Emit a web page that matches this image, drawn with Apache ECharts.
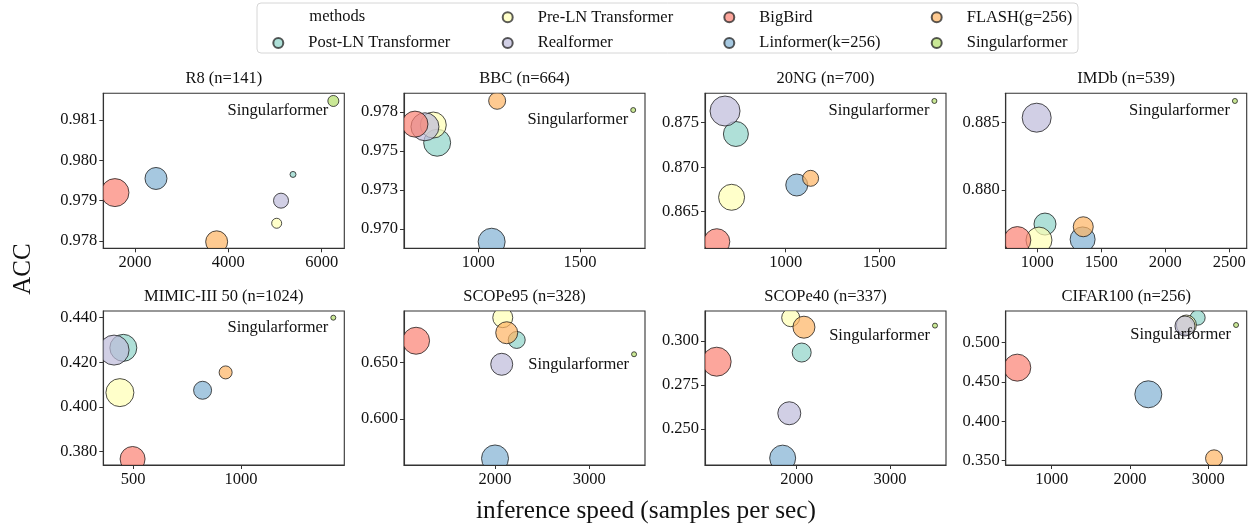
<!DOCTYPE html>
<html><head><meta charset="utf-8">
<script src="https://cdn.jsdelivr.net/npm/echarts@6/dist/echarts.min.js"></script>
<style>html,body{margin:0;padding:0;background:#fff}#c{width:1253px;height:529px}</style>
</head><body><div id="c"></div>
<script>
// ---------------- data ----------------
const methods = ['Post-LN Transformer','Pre-LN Transformer','Realformer','BigBird','Linformer(k=256)','FLASH(g=256)','Singularformer'];
const colors = ['#8dd3c7','#ffffb3','#bebada','#fb8072','#80b1d3','#fdb462','#b3de69'];
const datasets = ['R8 (n=141)','BBC (n=664)','20NG (n=700)','IMDb (n=539)','MIMIC-III 50 (n=1024)','SCOPe95 (n=328)','SCOPe40 (n=337)','CIFAR100 (n=256)'];

// inference speed (samples per sec), in method order
const speedR8     = [5386, 5036, 5129, 1571, 2450, 3750, 6250];
const speedBBC    = [798, 779, 738, 689, 1066, 1093, 1762];
const speed20NG   = [734, 711, 676, 632, 1059, 1133, 1794];
const speedIMDb   = [1060, 1013, 995, 844, 1354, 1359, 2544];
const speedMIMIC  = [454, 438, 411, 497, 822, 929, 1429];
const speedSCOPe95= [2230, 2082, 2071, 1163, 2000, 2124, 3474];
const speedSCOPe40= [2054, 1936, 1921, 1143, 1850, 2078, 3482];
const speedCIFAR  = [2864, 2720, 2702, 561, 2234, 3073, 3354];

// accuracy, in method order
const accR8     = [0.97965, 0.97844, 0.97900, 0.97920, 0.97955, 0.97798, 0.98147];
const accBBC    = [0.97552, 0.97665, 0.97654, 0.97671, 0.96919, 0.97820, 0.97761];
const acc20NG   = [0.87373, 0.86662, 0.87631, 0.86163, 0.86800, 0.86875, 0.87744];
const accIMDb   = [0.87747, 0.87628, 0.88537, 0.87628, 0.87633, 0.87727, 0.88661];
const accMIMIC  = [0.4265, 0.40645, 0.4255, 0.37673, 0.4075, 0.4155, 0.4400];
const accSCOPe95= [0.6702, 0.6900, 0.6486, 0.6695, 0.5650, 0.6766, 0.6575];
const accSCOPe40= [0.2934, 0.3132, 0.2589, 0.2882, 0.2334, 0.3078, 0.3087];
const accCIFAR  = [0.5318, 0.5225, 0.5212, 0.4683, 0.4344, 0.3530, 0.5225];

// bubble size value (memory-like third dimension), in method order
const bubR8     = [6, 10, 15, 28, 22, 22, 11];
const bubBBC    = [27, 26, 28, 26, 27, 17, 5];
const bub20NG   = [25, 26, 30, 26, 22, 16, 5];
const bubIMDb   = [22, 26, 29, 27, 25, 20, 5];
const bubMIMIC  = [27, 28, 30, 25, 18, 13, 5];
const bubSCOPe95= [17, 20, 22, 27, 27, 22, 5];
const bubSCOPe40= [19, 18, 23, 29, 26, 22, 5];
const bubCIFAR  = [15, 20, 20, 27, 27, 17, 5];

// axis ranges and ticks
const xMin = [1321, 635, 569, 753, 361, 1035, 1018, 413];
const xMax = [6485, 1820, 1856, 2636, 1480, 3590, 3600, 3490];
const yMin = [0.97782, 0.96877, 0.86089, 0.87567, 0.37404, 0.5592, 0.2295, 0.3445];
const yMax = [0.98166, 0.97868, 0.87830, 0.88718, 0.44300, 0.6959, 0.3170, 0.5403];
const xTicks = [[2000,4000,6000],[1000,1500],[1000,1500],[1000,1500,2000,2500],[500,1000],[2000,3000],[2000,3000],[1000,2000,3000]];
const yTicks = [[0.978,0.979,0.980,0.981],[0.970,0.9725,0.975,0.9775],[0.865,0.870,0.875],[0.880,0.885],[0.380,0.400,0.420,0.440],[0.600,0.650],[0.250,0.275,0.300],[0.350,0.400,0.450,0.500]];

const speeds = [speedR8, speedBBC, speed20NG, speedIMDb, speedMIMIC, speedSCOPe95, speedSCOPe40, speedCIFAR];
const accs = [accR8, accBBC, acc20NG, accIMDb, accMIMIC, accSCOPe95, accSCOPe40, accCIFAR];
const bubs = [bubR8, bubBBC, bub20NG, bubIMDb, bubMIMIC, bubSCOPe95, bubSCOPe40, bubCIFAR];

// ---------------- layout ----------------
const FONT = '"Liberation Serif", "DejaVu Serif", serif';
const FS = 16.5;
const lefts = [103.3, 404, 705, 1005.7];
const tops = [93.3, 311];
const heights = [155, 154];
const W = 241;
const EDGE = 'rgba(20,20,20,0.75)';

function rgba(hex, a) {
  const n = parseInt(hex.slice(1), 16);
  return 'rgba(' + (n >> 16) + ',' + ((n >> 8) & 255) + ',' + (n & 255) + ',' + a + ')';
}

function makeRender(m) {
  const fill = rgba(colors[m], 0.7);
  const isLast = m === methods.length - 1;
  return function (params, api) {
    const p = api.coord([api.value(0), api.value(1)]);
    const r = api.value(2) / 2;
    const cs = params.coordSys;
    const children = [{type: 'circle', shape: {cx: p[0], cy: p[1], r: r},
      style: {fill: fill, stroke: EDGE, lineWidth: 1}}];
    if (isLast) {
      children.push({type: 'text', x: p[0] - 5, y: p[1] + 10,
        style: {text: 'Singularformer', font: FS + 'px ' + FONT, fill: '#111',
          align: 'right', verticalAlign: 'middle'}});
    }
    return {type: 'group',
      clipPath: {type: 'rect', shape: {x: cs.x, y: cs.y, width: cs.width, height: cs.height}},
      children: children};
  };
}

const grids = [], xAxes = [], yAxes = [], series = [], graphics = [];
// legend-only series (first with each name, so the legend takes its marker style)
for (let m = 0; m < methods.length; m++) {
  series.push({type: 'scatter', name: methods[m], xAxisIndex: 0, yAxisIndex: 0, data: [],
    symbol: 'circle', silent: true,
    itemStyle: {color: colors[m], opacity: 0.7, borderColor: '#141414', borderWidth: 1}});
}
for (let d = 0; d < 8; d++) {
  const r = Math.floor(d / 4), c = d % 4;
  grids.push({left: lefts[c], top: tops[r], width: W, height: heights[r], show: true,
    borderColor: '#333', borderWidth: 1.1, backgroundColor: 'transparent', containLabel: false});
  xAxes.push({type: 'value', gridIndex: d, min: xMin[d], max: xMax[d],
    splitLine: {show: false},
    axisLine: {show: true, onZero: false, lineStyle: {color: '#333', width: 1.1}},
    axisTick: {show: true, customValues: xTicks[d], length: 4, lineStyle: {color: '#333', width: 1}},
    axisLabel: {customValues: xTicks[d], formatter: v => String(v), margin: 6,
      fontSize: FS, fontFamily: FONT, color: '#111'}});
  yAxes.push({type: 'value', gridIndex: d, min: yMin[d], max: yMax[d],
    splitLine: {show: false},
    axisLine: {show: true, onZero: false, lineStyle: {color: '#333', width: 1.1}},
    axisTick: {show: true, customValues: yTicks[d], length: 4, lineStyle: {color: '#333', width: 1}},
    axisLabel: {customValues: yTicks[d], formatter: v => Number(v).toFixed(3), margin: 6,
      fontSize: FS, fontFamily: FONT, color: '#111'}});
  for (let m = 0; m < methods.length; m++) {
    series.push({type: 'custom', name: methods[m], xAxisIndex: d, yAxisIndex: d,
      data: [[speeds[d][m], accs[d][m], bubs[d][m]]],
      renderItem: makeRender(m), clip: true, silent: true,
      itemStyle: {color: rgba(colors[m], 0.7), borderColor: EDGE, borderWidth: 1},
      encode: {x: 0, y: 1}});
  }
  graphics.push({type: 'text', x: lefts[c] + W / 2, y: tops[r] - 14.5,
    style: {text: datasets[d], font: FS + 'px ' + FONT, fill: '#111',
      align: 'center', verticalAlign: 'middle', textAlign: 'center', textVerticalAlign: 'middle'}});
}

// legend frame + header
graphics.push({type: 'rect', z: 0, shape: {x: 257, y: 3, width: 821, height: 50, r: 4},
  style: {fill: '#fff', stroke: '#d6d6d6', lineWidth: 1}});
graphics.push({type: 'text', x: 309.3, y: 17,
  style: {text: 'methods', font: FS + 'px ' + FONT, fill: '#111', align: 'left', verticalAlign: 'middle',
    textAlign: 'left', textVerticalAlign: 'middle'}});
// axis titles
graphics.push({type: 'text', x: 23, y: 269, rotation: Math.PI / 2,
  style: {text: 'ACC', font: '25px ' + FONT, fill: '#111', align: 'center', verticalAlign: 'middle',
    textAlign: 'center', textVerticalAlign: 'middle'}});
graphics.push({type: 'text', x: 646, y: 511,
  style: {text: 'inference speed (samples per sec)', font: '25.3px ' + FONT, fill: '#111',
    align: 'center', verticalAlign: 'middle', textAlign: 'center', textVerticalAlign: 'middle'}});

const legendCommon = {orient: 'vertical', itemWidth: 10, itemHeight: 10, itemGap: 7.7, padding: 0,
  icon: 'circle', selectedMode: false, z: 5,
  textStyle: {fontSize: FS, fontFamily: FONT, color: '#111', lineHeight: 18, padding: [0, 0, 0, 20]}};
const legends = [
  Object.assign({}, legendCommon, {data: [methods[0]], left: 272.3, top: 34}),
  Object.assign({}, legendCommon, {data: [methods[1], methods[2]], left: 501.7, top: 8.3}),
  Object.assign({}, legendCommon, {data: [methods[3], methods[4]], left: 723.3, top: 8.3}),
  Object.assign({}, legendCommon, {data: [methods[5], methods[6]], left: 930.7, top: 8.3})
];

const chart = echarts.init(document.getElementById('c'));
chart.setOption({
  animation: false,
  backgroundColor: '#fff',
  textStyle: {fontFamily: FONT},
  grid: grids, xAxis: xAxes, yAxis: yAxes, series: series,
  legend: legends, graphic: graphics
});
</script></body></html>
